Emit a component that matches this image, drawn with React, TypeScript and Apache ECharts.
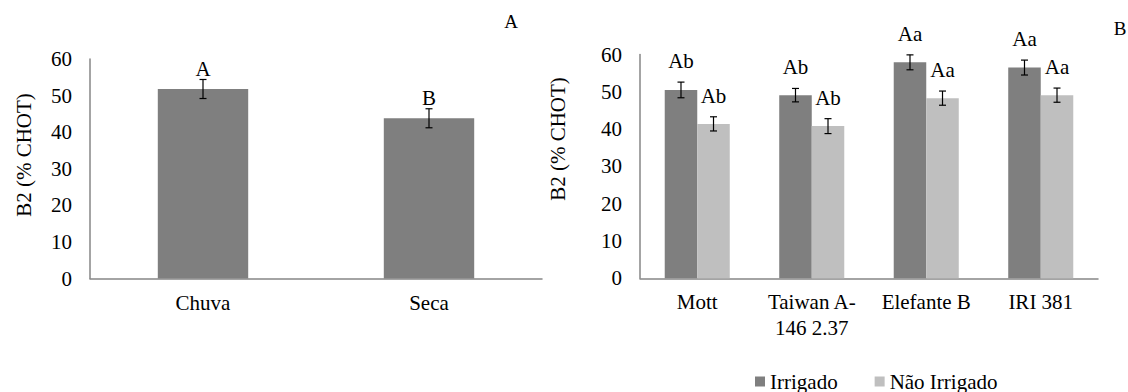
import React, { useEffect, useRef } from "react";
import * as echarts from "echarts";

const seasons = ["Chuva", "Seca"];
const seasonValues = [51.8, 43.8];
const seasonErrors = [2.6, 2.6];
const seasonLetters = ["A", "B"];

const cultivars = ["Mott", "Taiwan A-146 2.37", "Elefante B", "IRI 381"];
const irrigadoValues = [50.5, 49.1, 57.9, 56.5];
const irrigadoErrors = [2.1, 1.8, 2.0, 2.0];
const irrigadoLetters = ["Ab", "Ab", "Aa", "Aa"];
const naoIrrigadoValues = [41.4, 40.8, 48.3, 49.1];
const naoIrrigadoErrors = [1.9, 2.0, 1.9, 1.9];
const naoIrrigadoLetters = ["Ab", "Ab", "Aa", "Aa"];

const yTicks = { min: 0, max: 60, interval: 10 };
const yTitle = "B2 (% CHOT)";
const seriesNames = ["Irrigado", "Não Irrigado"];

const FONT = "Liberation Serif";
const DARK = "#7f7f7f";
const LIGHT = "#bfbfbf";
const AXIS = "#868686";

function errorRenderer(offsetSign: number, widthFrac: number, labelGap: number) {
  return (params: any, api: any) => {
    const cat = api.value(0);
    const val = api.value(1);
    const err = api.value(2);
    const letter = api.value(3);
    const band = api.size([1, 0])[0];
    const bw = band * widthFrac;
    const c = api.coord([cat, val]);
    const x = c[0] + (offsetSign * bw) / 2;
    const top = api.coord([cat, val + err])[1];
    const bot = api.coord([cat, val - err])[1];
    const cap = 3.5;
    const ls = { stroke: "#000", lineWidth: 1.2 };
    return {
      type: "group",
      children: [
        { type: "line", shape: { x1: x, y1: top, x2: x, y2: bot }, style: ls },
        { type: "line", shape: { x1: x - cap, y1: top, x2: x + cap, y2: top }, style: ls },
        { type: "line", shape: { x1: x - cap, y1: bot, x2: x + cap, y2: bot }, style: ls },
        {
          type: "text",
          style: {
            text: letter,
            x: x,
            y: top - labelGap,
            align: "center",
            verticalAlign: "middle",
            fontSize: 21,
            fontFamily: FONT,
            fill: "#000",
          },
        },
      ],
    };
  };
}

export default function App() {
  const ref = useRef<HTMLDivElement>(null);
  useEffect(() => {
    if (!ref.current) return;
    const chart = echarts.init(ref.current, null, { renderer: "svg" });
    const axisLabelStyle = { color: "#000", fontSize: 21, fontFamily: FONT };
    const yAxisBase = {
      type: "value",
      min: yTicks.min,
      max: yTicks.max,
      interval: yTicks.interval,
      axisLine: { show: true, lineStyle: { color: AXIS, width: 1.5 } },
      axisTick: { show: false },
      splitLine: { show: false },
      axisLabel: { ...axisLabelStyle, margin: 18 },
    };
    const xAxisBase = {
      type: "category",
      axisLine: { show: true, lineStyle: { color: AXIS, width: 1.5 } },
      axisTick: { show: false },
      axisLabel: { ...axisLabelStyle, margin: 11, lineHeight: 26, interval: 0 },
    };
    chart.setOption({
      animation: false,
      backgroundColor: "#fff",
      textStyle: { fontFamily: FONT },
      grid: [
        { left: 90, top: 59, width: 452, height: 219.5 },
        { left: 640, top: 54.5, width: 458, height: 223.8 },
      ],
      xAxis: [
        { ...xAxisBase, gridIndex: 0, data: seasons },
        {
          ...xAxisBase,
          gridIndex: 1,
          data: cultivars,
          axisLabel: {
            ...xAxisBase.axisLabel,
            formatter: (v: string) => v.replace("A-", "A-\n"),
          },
        },
      ],
      yAxis: [
        { ...yAxisBase, gridIndex: 0 },
        { ...yAxisBase, gridIndex: 1 },
      ],
      legend: {
        data: seriesNames,
        left: 755,
        top: 371,
        padding: 0,
        icon: "rect",
        itemWidth: 10,
        itemHeight: 10,
        itemGap: 37,
        textStyle: { color: "#000", fontSize: 21, fontFamily: FONT },
      },
      series: [
        {
          name: "Estação",
          type: "bar",
          xAxisIndex: 0,
          yAxisIndex: 0,
          data: seasonValues,
          barWidth: "40%",
          itemStyle: { color: DARK },
        },
        {
          type: "custom",
          xAxisIndex: 0,
          yAxisIndex: 0,
          renderItem: errorRenderer(0, 0.4, 10.5),
          encode: { x: 0, y: 1 },
          data: seasons.map((_, i) => [i, seasonValues[i], seasonErrors[i], seasonLetters[i]]),
          z: 5,
        },
        {
          name: seriesNames[0],
          type: "bar",
          xAxisIndex: 1,
          yAxisIndex: 1,
          data: irrigadoValues,
          barWidth: "28.4%",
          barGap: "0%",
          itemStyle: { color: DARK },
        },
        {
          name: seriesNames[1],
          type: "bar",
          xAxisIndex: 1,
          yAxisIndex: 1,
          data: naoIrrigadoValues,
          barWidth: "28.4%",
          barGap: "0%",
          itemStyle: { color: LIGHT },
        },
        {
          type: "custom",
          xAxisIndex: 1,
          yAxisIndex: 1,
          renderItem: errorRenderer(-1, 0.284, 21),
          encode: { x: 0, y: 1 },
          data: cultivars.map((_, i) => [i, irrigadoValues[i], irrigadoErrors[i], irrigadoLetters[i]]),
          z: 5,
        },
        {
          type: "custom",
          xAxisIndex: 1,
          yAxisIndex: 1,
          renderItem: errorRenderer(1, 0.284, 21),
          encode: { x: 0, y: 1 },
          data: cultivars.map((_, i) => [i, naoIrrigadoValues[i], naoIrrigadoErrors[i], naoIrrigadoLetters[i]]),
          z: 5,
        },
      ],
      graphic: [
        {
          type: "text",
          x: 24,
          y: 155,
          rotation: Math.PI / 2,
          style: { text: yTitle, align: "center", verticalAlign: "middle", fontSize: 21, fontFamily: FONT, fill: "#000" },
        },
        {
          type: "text",
          x: 558,
          y: 139,
          rotation: Math.PI / 2,
          style: { text: yTitle, align: "center", verticalAlign: "middle", fontSize: 21, fontFamily: FONT, fill: "#000" },
        },
        {
          type: "text",
          x: 511,
          y: 21,
          style: { text: "A", align: "center", verticalAlign: "middle", fontSize: 19, fontFamily: FONT, fill: "#000" },
        },
        {
          type: "text",
          x: 1120,
          y: 28,
          style: { text: "B", align: "center", verticalAlign: "middle", fontSize: 19, fontFamily: FONT, fill: "#000" },
        },
      ],
    });
    return () => chart.dispose();
  }, []);
  return (
    <div
      ref={ref}
      style={{ position: "fixed", left: 0, top: 0, width: 1128, height: 392, background: "#fff" }}
    />
  );
}
